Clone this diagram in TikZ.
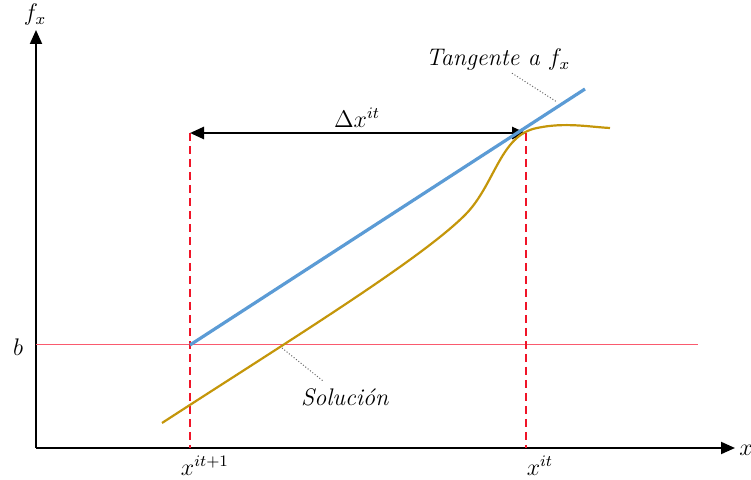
\documentclass[tikz,border=0pt]{standalone}
\usepackage{tikz}
\usetikzlibrary{arrows.meta}

\definecolor{tanblue}{RGB}{91,155,213}
\definecolor{curvegold}{RGB}{196,150,10}
\definecolor{guidered}{RGB}{240,20,40}
\definecolor{levelred}{RGB}{250,90,110}

\begin{document}
\begin{tikzpicture}[
  x=0.5pt, y=-0.5pt,
  axis/.style={draw=black, line width=1pt, -{Triangle[length=7pt, width=6pt]}},
  guide/.style={draw=guidered, line width=1pt, dash pattern=on 4pt off 2.5pt},
  level/.style={draw=levelred, line width=0.5pt},
  tangent/.style={draw=tanblue, line width=1.6pt},
  func/.style={draw=curvegold, line width=1.1pt},
  leader/.style={draw=black!60, densely dotted, line width=0.5pt},
  lbl/.style={font=\large, inner sep=1pt}
]
  \useasboundingbox (0,0) rectangle (751,480);

  % Axes
  \coordinate (O) at (36,448);
  \coordinate (ytop) at (36,30);
  \coordinate (xend) at (735,448);
  \draw[axis] (O)--(ytop);
  \draw[axis] (O)--(xend);
  \node[lbl] (fx) at (35,15) {$f_x$};
  \node[lbl] (xl) at (746,450) {$x$};

  % Level b
  \coordinate (bl) at (36,345);
  \coordinate (br) at (698,345);
  \draw[level] (bl)--(br);
  \node[lbl] (b) at (18,347) {$b$};

  % Iterates
  \coordinate (xn) at (190,448);
  \coordinate (xnt) at (190,133);
  \coordinate (xi) at (526,448);
  \coordinate (xit) at (526,133);
  \draw[guide] (xnt)--(xn);
  \draw[guide] (xit)--(xi);
  \node[lbl] (xnl) at (205,466) {$x^{it+1}$};
  \node[lbl] (xil) at (540,466) {$x^{it}$};

  % Step
  \draw[line width=1.3pt, {Triangle[length=7pt, width=6pt]}-{Triangle[length=7pt, width=6pt]}] (xnt)--(xit);
  \node[lbl] (dx) at (357,118) {$\Delta x^{it}$};

  % Tangent and function
  \coordinate (t0) at (190,345);
  \coordinate (t1) at (585,89);
  \draw[tangent] (t0)--(t1);
  \draw[func] (162,423) .. controls (290,340) and (420,260) .. (465,215)
    .. controls (495,185) and (500,135) .. (537,128)
    .. controls (565,122) and (590,127) .. (610,128);

  % Labels with leaders
  \node[lbl] (tg) at (498,60) {\textit{Tangente a} $f_x$};
  \coordinate (tgp) at (557,102);
  \draw[leader] (tg.south)++(14,0) coordinate (tgs) (tgs)--(tgp);
  \node[lbl] (sol) at (345,397) {\textit{Soluci\'on}};
  \coordinate (solp) at (282,348);
  \coordinate (sols) at (323,381);
  \draw[leader] (solp)--(sols);
\end{tikzpicture}
\end{document}
